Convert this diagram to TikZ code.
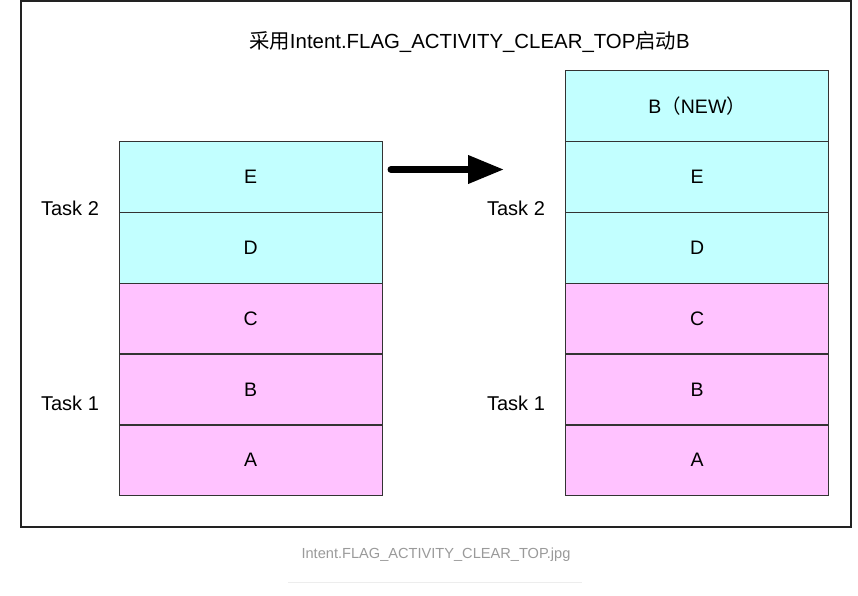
\documentclass[tikz,border=0pt]{standalone}
\usepackage{fontspec}
\setmainfont{Liberation Sans}
\newfontfamily\cjk{Noto Sans CJK SC}
\usetikzlibrary{arrows.meta}
\definecolor{cyanbox}{HTML}{C2FFFF}
\definecolor{pinkbox}{HTML}{FFC2FF}
\definecolor{boxline}{HTML}{333333}
\definecolor{framecol}{HTML}{222222}
\definecolor{capgray}{HTML}{9A9A9A}
\definecolor{rulegray}{HTML}{EDEDED}
\begin{document}
\begin{tikzpicture}[x=1pt,y=-1pt,
  cell/.style={draw=boxline,line width=1.3pt,minimum width=263pt,minimum height=70.8pt,
    inner sep=0pt,font=\fontsize{19.5}{22}\selectfont,anchor=north west},
  cyancell/.style={cell,fill=cyanbox},
  pinkcell/.style={cell,fill=pinkbox},
  tasklabel/.style={font=\fontsize{20}{22}\selectfont,inner sep=0pt},
  bigarrow/.style={line width=7pt,line cap=round,-{Triangle[length=36pt,width=27pt]}}]
\useasboundingbox (0,0) rectangle (858,596);
\fill[white] (0,0) rectangle (858,596);
\draw[framecol,line width=2pt] (21,1.5) rectangle (851,526.5);
% title
\node[font=\fontsize{20.4}{23}\selectfont,inner sep=0pt] (title) at (469.5,42) {{\cjk 采用}Intent.FLAG\_ACTIVITY\_CLEAR\_TOP{\cjk 启动}B};
% left stack
\node[cyancell] (lE) at (118.5,141) {E};
\node[cyancell] (lD) at (118.5,211.8) {D};
\node[pinkcell] (lC) at (118.5,282.6) {C};
\node[pinkcell] (lB) at (118.5,353.4) {B};
\node[pinkcell] (lA) at (118.5,424.2) {A};
% right stack
\node[cyancell] (rN) at (565,70.2) {B{\cjk （}NEW{\cjk ）}};
\node[cyancell] (rE) at (565,141) {E};
\node[cyancell] (rD) at (565,211.8) {D};
\node[pinkcell] (rC) at (565,282.6) {C};
\node[pinkcell] (rB) at (565,353.4) {B};
\node[pinkcell] (rA) at (565,424.2) {A};
% task labels
\node[tasklabel] (lt2) at (70,208) {Task 2};
\node[tasklabel] (lt1) at (70,403) {Task 1};
\node[tasklabel] (rt2) at (516,208) {Task 2};
\node[tasklabel] (rt1) at (516,403) {Task 1};
% arrow
\coordinate (astart) at (391,169.5);
\coordinate (aend) at (504,169.5);
\draw[bigarrow] (astart) -- (aend);
% caption
\node[font=\fontsize{14.6}{16}\selectfont,text=capgray,inner sep=0pt] (cap) at (436,555) {Intent.FLAG\_ACTIVITY\_CLEAR\_TOP.jpg};
\draw[rulegray,line width=1pt] (288,582) -- (582,582);
\end{tikzpicture}
\end{document}
